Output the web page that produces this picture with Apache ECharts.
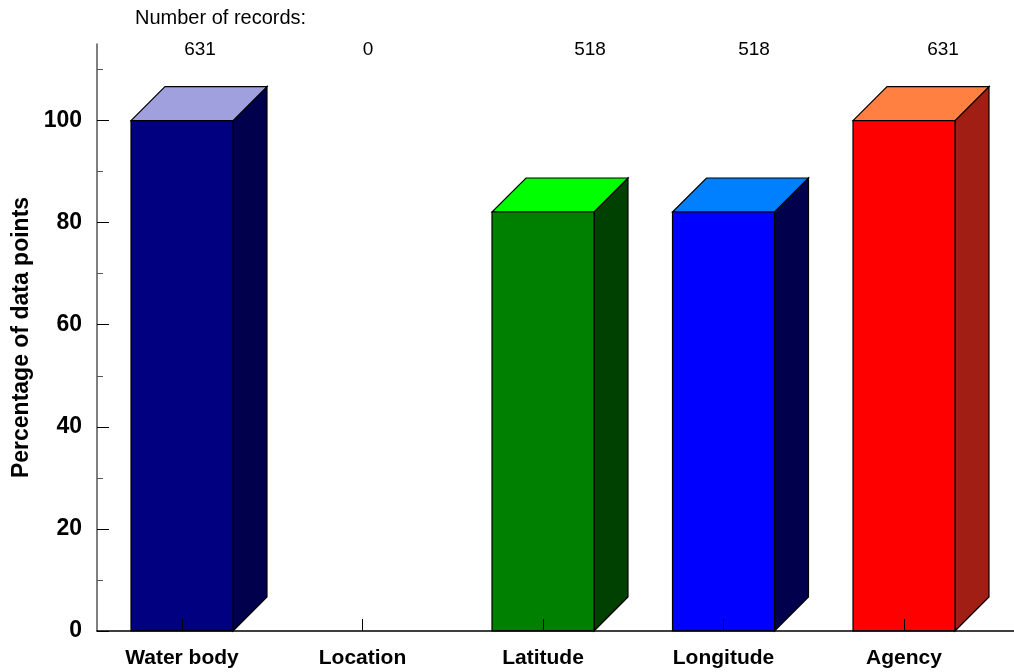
<!DOCTYPE html>
<html>
<head>
<meta charset="utf-8">
<script src="https://cdn.jsdelivr.net/npm/echarts@6/dist/echarts.min.js"></script>
<style>html,body{margin:0;padding:0;background:#fff}#c{width:1014px;height:672px}</style>
</head>
<body>
<div id="c"></div>
<script>
// ---- data ----
const categories = ['Water body', 'Location', 'Latitude', 'Longitude', 'Agency'];
const percentValues = [100, 0, 82.09, 82.09, 100];
const recordCounts = [631, 0, 518, 518, 631];
const yMajorTicks = [0, 20, 40, 60, 80, 100];
const yMinorTicks = [10, 30, 50, 70, 90, 110];

// ---- styling / layout ----
const faceColors = [
  { front: '#000080', top: '#a0a0de', side: '#00004c' },
  { front: '#808080', top: '#c0c0c0', side: '#404040' },
  { front: '#008000', top: '#00ff00', side: '#004000' },
  { front: '#0000ff', top: '#0080ff', side: '#00004c' },
  { front: '#ff0000', top: '#ff8040', side: '#a01e14' }
];
const FONT = 'Liberation Sans, Arial, sans-serif';
const DEPTH = 34;
const BAR_FRAC = 0.565;
const X_MIN = -0.4709, X_MAX = 4.6094;
const recordLabelX = [200, 368, 590, 754, 943];

const chart = echarts.init(document.getElementById('c'), null, { renderer: 'canvas' });

const seriesData = categories.map((c, i) => [i, percentValues[i]]);

const graphics = [{
  type: 'text', left: 135, top: 8,
  style: { text: 'Number of records:', font: '20px ' + FONT, fill: '#000' }
}];
recordCounts.forEach((n, i) => {
  graphics.push({
    type: 'text', x: recordLabelX[i], y: 50,
    style: { text: String(n), font: '19px ' + FONT, fill: '#000', textAlign: 'center', textVerticalAlign: 'middle' }
  });
});

const option = {
  backgroundColor: '#fff',
  animation: false,
  grid: { left: 97, right: 0, top: 44, bottom: 41 },
  xAxis: {
    type: 'value', min: X_MIN, max: X_MAX, z: 10,
    splitLine: { show: false },
    axisLine: { show: true, onZero: false, lineStyle: { color: '#000', width: 1.5 } },
    axisTick: { show: true, inside: true, length: 12, customValues: [0, 1, 2, 3, 4], lineStyle: { color: '#000' } },
    axisLabel: {
      customValues: [0, 1, 2, 3, 4], margin: 17,
      formatter: v => categories[Math.round(v)] || '',
      fontFamily: FONT, fontWeight: 'bold', fontSize: 21, color: '#000'
    }
  },
  yAxis: [{
    type: 'value', min: 0, max: 115, z: 10,
    name: 'Percentage of data points', nameLocation: 'middle', nameGap: 64,
    nameTextStyle: { fontFamily: FONT, fontWeight: 'bold', fontSize: 23, color: '#000' },
    splitLine: { show: false },
    axisLine: { show: true, onZero: false, lineStyle: { color: '#555', width: 1.5 } },
    axisTick: { show: true, inside: true, length: 12, customValues: yMajorTicks, lineStyle: { color: '#000' } },
    axisLabel: {
      customValues: yMajorTicks, margin: 15,
      fontFamily: FONT, fontWeight: 'bold', fontSize: 23, color: '#000'
    }
  }, {
    type: 'value', min: 0, max: 115, position: 'left', z: 10,
    splitLine: { show: false },
    axisLine: { show: false, onZero: false },
    axisTick: { show: true, inside: true, length: 6, customValues: yMinorTicks, lineStyle: { color: '#555' } },
    axisLabel: { show: false }
  }],
  graphic: graphics,
  series: [{
    type: 'custom', z: 2, clip: false,
    data: seriesData,
    renderItem: function (params, api) {
      const i = api.value(0);
      const v = api.value(1);
      if (!v) return null;
      const top = api.coord([i, v]);
      const base = api.coord([i, 0]);
      const w = api.size([BAR_FRAC, 0])[0];
      const x0 = top[0] - w / 2, x1 = top[0] + w / 2;
      const yT = top[1], yB = base[1];
      const col = faceColors[i];
      const stroke = { stroke: '#000', lineWidth: 1.2, lineJoin: 'miter' };
      return {
        type: 'group',
        children: [
          { type: 'polygon', shape: { points: [[x1, yT], [x1 + DEPTH, yT - DEPTH], [x1 + DEPTH, yB - DEPTH], [x1, yB]] },
            style: Object.assign({ fill: col.side }, stroke) },
          { type: 'polygon', shape: { points: [[x0, yT], [x0 + DEPTH, yT - DEPTH], [x1 + DEPTH, yT - DEPTH], [x1, yT]] },
            style: Object.assign({ fill: col.top }, stroke) },
          { type: 'rect', shape: { x: x0, y: yT, width: w, height: yB - yT },
            style: Object.assign({ fill: col.front }, stroke) }
        ]
      };
    }
  }]
};
chart.setOption(option);
</script>
</body>
</html>
